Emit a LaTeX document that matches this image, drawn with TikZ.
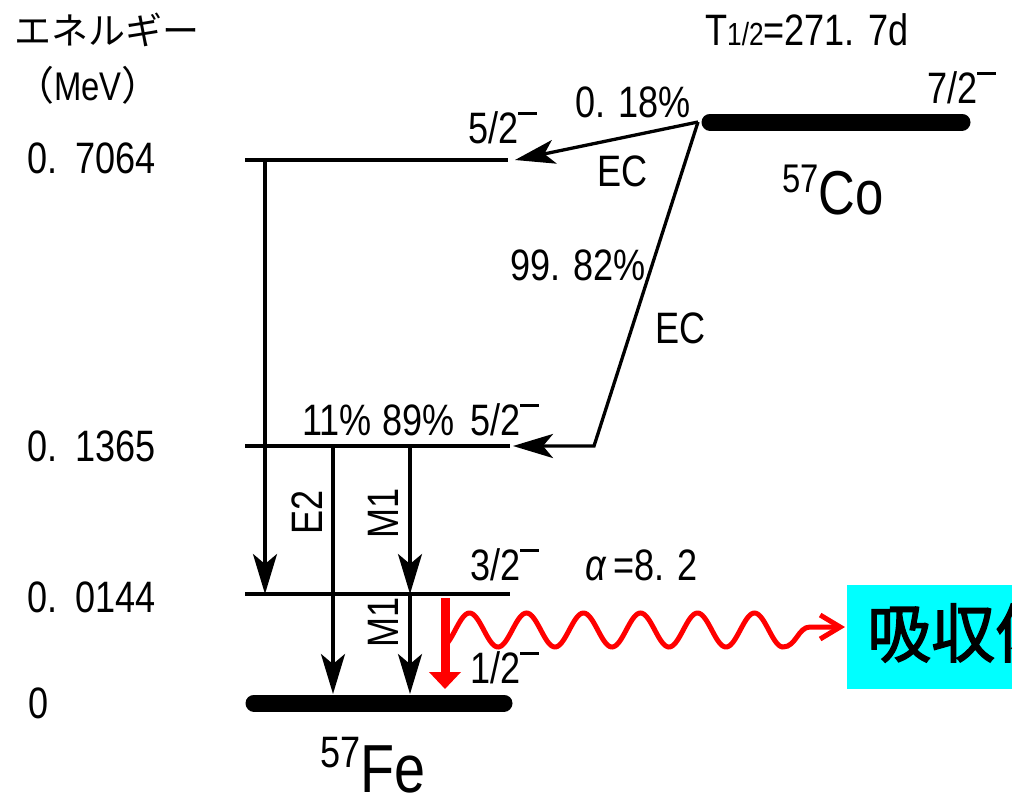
\documentclass[tikz,border=0pt]{standalone}
\usepackage{fontspec}
\setmainfont{Liberation Sans}[FakeStretch=0.82]
\newfontfamily\cjk{Noto Sans CJK JP}
\newfontfamily\cjkb{Noto Sans CJK JP}[FakeBold=2]
\usetikzlibrary{arrows.meta}
\definecolor{aqua}{RGB}{0,255,255}
\newcommand{\spmin}{\raisebox{0.66em}{\rule{0.42em}{0.05em}}}
\begin{document}
\begin{tikzpicture}[x=1pt,y=-1pt,
  lvl/.style={line width=4.5pt},
  gnd/.style={line width=17pt, line cap=round},
  tr/.style={line width=3.3pt, -{Stealth[length=40pt,width=24pt,inset=10pt]}},
  lab/.style={font=\fontsize{44}{48}\selectfont, inner sep=0pt},
  big/.style={inner sep=0pt},
  wave/.style={red, line width=5pt}]
\useasboundingbox (0,0) rectangle (1012,800);
\clip (0,0) rectangle (1012,800);
% level coordinates
\coordinate (L1a) at (245,160); \coordinate (L1b) at (508,160);
\coordinate (L2a) at (245,446); \coordinate (L2b) at (510,446);
\coordinate (L3a) at (245,594); \coordinate (L3b) at (510,594);
\coordinate (Fea) at (254,703); \coordinate (Feb) at (504,703);
\coordinate (Coa) at (710,122); \coordinate (Cob) at (962,122);
\coordinate (ECs) at (698,122);
\coordinate (EC1) at (515,160);
\coordinate (ECk) at (594,446);
\coordinate (EC2) at (513,446);
% levels
\draw[lvl] (L1a) -- (L1b);
\draw[lvl] (L2a) -- (L2b);
\draw[lvl] (L3a) -- (L3b);
\draw[gnd] (Fea) -- (Feb);
\draw[gnd] (Coa) -- (Cob);
% EC branches
\draw[tr] (ECs) -- (EC1);
\draw[tr, line join=miter] (ECs) -- (ECk) -- (EC2);
% gamma transitions
\coordinate (g1s) at (265,160); \coordinate (g1e) at (265,594);
\coordinate (g2s) at (333,446); \coordinate (g2e) at (333,694);
\coordinate (g3s) at (410,446); \coordinate (g3e) at (410,594);
\coordinate (g4e) at (410,694);
\draw[tr] (g1s) -- (g1e);
\draw[tr] (g2s) -- (g2e);
\draw[tr] (g3s) -- (g3e);
\draw[tr] (g3e) -- (g4e);
% red arrow
\coordinate (ra) at (445,598); \coordinate (rb) at (445,689);
\draw[red, line width=9pt, -{Triangle[length=17pt,width=31pt]}] (ra) -- (rb);
% wave
\draw[wave] plot[domain=446:783, samples=240] (\x, {630+17*cos((\x-441)/57*360)});
\coordinate (w1) at (783,647); \coordinate (w2) at (810,627);
\coordinate (wt) at (845,627);
\draw[wave, line cap=round, -{Straight Barb[length=20pt,width=24pt,line width=5pt]}]
  (w1) .. controls (796,647) and (798,627) .. (w2) -- (wt);
% absorber box
\node[fill=aqua, anchor=north west, minimum width=200pt, minimum height=104pt, inner sep=0pt] (box) at (847,585) {};
\node[inner sep=0pt, anchor=west, font=\cjkb\fontsize{64}{70}\selectfont] (abs) at (867,633) {吸収体};
% axis labels
\node[inner sep=0pt, font=\cjk\fontsize{37}{40}\selectfont] (en) at (107,30) {エネルギー};
\node[inner sep=0pt, font=\fontsize{40}{44}\selectfont] (mev) at (88,85) {{\cjk （}MeV{\cjk ）}};
\node[lab, anchor=west] (e1) at (27,158) {0.\hspace{0.1em} 7064};
\node[lab, anchor=west] (e2) at (27,446) {0.\hspace{0.1em} 1365};
\node[lab, anchor=west] (e3) at (27,597) {0.\hspace{0.1em} 0144};
\node[lab, anchor=west] (e4) at (28,703) {0};
% spins and branch labels
\node[lab, anchor=west] (s1) at (468,128) {5/2\spmin};
\node[lab, anchor=west] (p1) at (575,102) {0. 18\%};
\node[lab, anchor=west] (ec1) at (597,171) {EC};
\node[lab, anchor=west] (p2) at (510,265) {99. 82\%};
\node[lab, anchor=west] (ec2) at (655,328) {EC};
\node[lab, anchor=west] (p3) at (302,420) {11\%};
\node[lab, anchor=west] (p4) at (382,420) {89\%};
\node[lab, anchor=west] (s2) at (470,420) {5/2\spmin};
\node[lab, anchor=west] (s3) at (470,565) {3/2\spmin};
\node[lab, anchor=west] (al) at (585,565) {{\itshape α}\,=8. 2};
\node[lab, anchor=west] (s4) at (470,668) {1/2\spmin};
\node[lab, anchor=west] (thalf) at (705,30) {T{\fontsize{32}{34}\selectfont 1/2}=271. 7d};
\node[lab, anchor=west] (s5) at (927,88) {7/2\spmin};
\node[lab, rotate=90] (E2) at (307,512) {E2};
\node[lab, rotate=90] (M1a) at (383,513) {M1};
\node[lab, rotate=90] (M1b) at (383,622) {M1};
% nuclide names
\node[big, anchor=base west] (co) at (782,214) {\fontsize{40}{44}\selectfont\raisebox{0.55em}{57}\fontsize{62}{66}\selectfont Co};
\node[big, anchor=base west] (fe) at (320,792) {\fontsize{44}{48}\selectfont\raisebox{0.55em}{57}\fontsize{68}{72}\selectfont Fe};
\end{tikzpicture}
\end{document}
